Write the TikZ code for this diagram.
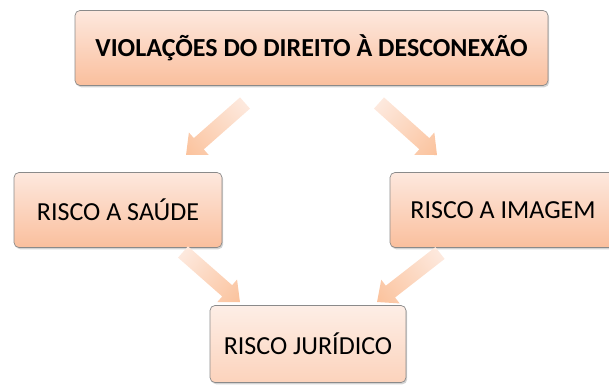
\documentclass[tikz,border=0pt]{standalone}
\usepackage{fontspec}
\setmainfont{Carlito}
\usetikzlibrary{shadows}
\definecolor{boxtop}{HTML}{FDE8DE}
\definecolor{boxbot}{HTML}{FABF9D}
\definecolor{lboxtop}{HTML}{FDEEE6}
\definecolor{lboxbot}{HTML}{FCD3BC}
\definecolor{boxline}{HTML}{8A8A8A}
\definecolor{arrtail}{HTML}{FDE9DE}
\definecolor{arrhead}{HTML}{FBC29C}
\tikzset{
  box/.style={draw=boxline, line width=0.7pt, rounded corners=5pt,
    top color=boxtop, bottom color=boxbot,
    drop shadow={shadow xshift=1.2pt, shadow yshift=-1.8pt, opacity=0.35},
    inner sep=0pt, font=\fontsize{26}{30}\selectfont, text=black},
  lightbox/.style={box, top color=lboxtop, bottom color=lboxbot},
}
% #1 tail coordinate, #2 angle, #3 length
\newcommand\fatarrow[3]{%
  \begin{scope}[transform canvas={shift={(#1)}, rotate=#2}]
    \shade[left color=arrtail, right color=arrhead]
      (0,-7.5) -- ({#3-17},-7.5) -- ({#3-17},-15) -- (#3,0) --
      ({#3-17},15) -- ({#3-17},7.5) -- (0,7.5) -- cycle;
  \end{scope}}
\begin{document}
\begin{tikzpicture}[x=1pt,y=-1pt]
  \useasboundingbox (0,0) rectangle (609,385);
  \node[box, minimum width=473pt, minimum height=75pt, font=\fontsize{26}{30}\selectfont\bfseries]
    (top) at (311.5,48) {VIOLAÇÕES DO DIREITO À DESCONEXÃO};
  \node[box, minimum width=208pt, minimum height=75pt] (saude) at (118,210) {RISCO A SAÚDE};
  \node[box, minimum width=226pt, minimum height=75pt] (imagem) at (503,210) {RISCO A IMAGEM};
  \node[lightbox, minimum width=196pt, minimum height=77pt] (jur) at (308,344) {RISCO JURÍDICO};
  \coordinate (t1) at (245,103);
  \coordinate (t2) at (379,103);
  \coordinate (t3) at (183,252);
  \coordinate (t4) at (440,253);
  \fatarrow{t1}{-138.6}{78.6}
  \fatarrow{t2}{-41.9}{77.9}
  \fatarrow{t3}{-41.3}{75.8}
  \fatarrow{t4}{-142.1}{79.8}
\end{tikzpicture}
\end{document}
